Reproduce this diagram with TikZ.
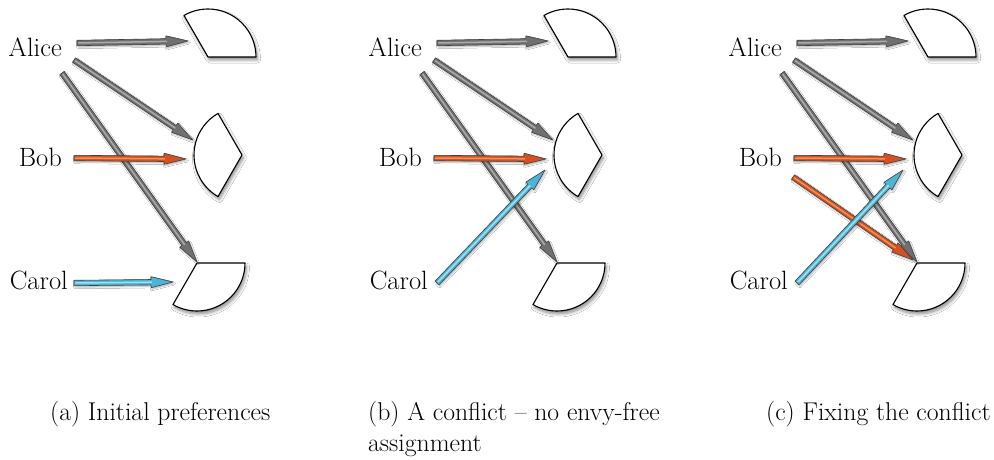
\documentclass[tikz,border=0pt]{standalone}
\usepackage{fontspec}
\usetikzlibrary{calc,shadows.blur}
\definecolor{grayA}{RGB}{112,112,112}
\definecolor{grayL}{RGB}{170,170,170}
\definecolor{orA}{RGB}{212,82,32}
\definecolor{orL}{RGB}{242,145,85}
\definecolor{blA}{RGB}{76,180,214}
\definecolor{blL}{RGB}{160,224,242}
\tikzset{
  lbl/.style={font=\fontsize{26.5pt}{31pt}\selectfont, inner sep=0pt, anchor=base east},
  captxt/.style={font=\fontsize{25.7pt}{31pt}\selectfont, inner sep=0pt, anchor=base west, align=left},
  sector/.style={draw=black, line width=1.1pt, fill=white, line join=round,
    blur shadow={shadow xshift=1.5pt, shadow yshift=-3pt, shadow blur steps=6, shadow opacity=45, shadow blur radius=3pt}},
  arrbody/.style={draw=black!75, line width=0.6pt, line join=round,
    blur shadow={shadow xshift=1pt, shadow yshift=-1.5pt, shadow opacity=30, shadow blur radius=1.5pt}},
  hilite/.style={line width=1.5pt, line cap=round},
}
\newcommand\fatarrow[4]{%
  \coordinate (fah) at ($(#2)!22pt!(#1)$);
  \draw[arrbody, fill=#3] ($(#1)!2.7pt!90:(#2)$) -- ($(fah)!2.7pt!-90:(#1)$) -- ($(fah)!5.5pt!-90:(#1)$) -- (#2) -- ($(fah)!5.5pt!90:(#1)$) -- ($(fah)!2.7pt!90:(#1)$) -- ($(#1)!2.7pt!-90:(#2)$) -- cycle;
  \draw[hilite, #4] ($(#1)!1.5pt!(#2)$) -- ($(fah)!0.5pt!(#2)$);
}
\newcommand\panelbase[1]{%
  \node[lbl] (#1alice) at (62,57) {Alice};
  \node[lbl] (#1bob) at (62,166) {Bob};
  \node[lbl] (#1carol) at (68,289) {Carol};
  \draw[sector] (208,57) coordinate (#1top) -- ++(0:48pt) arc[start angle=0,end angle=120,radius=48pt] -- cycle;
  \draw[sector] (242,155) coordinate (#1mid) -- ++(120:48pt) arc[start angle=120,end angle=240,radius=48pt] -- cycle;
  \draw[sector] (197,263) coordinate (#1bot) -- ++(0:48pt) arc[start angle=0,end angle=-120,radius=48pt] -- cycle;
  \coordinate (#1a1s) at (77,43);  \coordinate (#1a1e) at (188,41);
  \coordinate (#1a2s) at (74,60);  \coordinate (#1a2e) at (193,140);
  \coordinate (#1a3s) at (62,73);  \coordinate (#1a3e) at (197,262);
  \coordinate (#1b1s) at (74,158); \coordinate (#1b1e) at (186,159);
  \fatarrow{#1a1s}{#1a1e}{grayA}{grayL}
  \fatarrow{#1a2s}{#1a2e}{grayA}{grayL}
  \fatarrow{#1a3s}{#1a3e}{grayA}{grayL}
  \fatarrow{#1b1s}{#1b1e}{orA}{orL}
}
\begin{document}
\begin{tikzpicture}[x=1pt,y=-1pt]
\fill[white] (0,0) rectangle (994,460);
\useasboundingbox (0,0) rectangle (994,460);
% panel a
\begin{scope}
  \panelbase{a}
  \coordinate (ac1s) at (74,283); \coordinate (ac1e) at (173,282);
  \fatarrow{ac1s}{ac1e}{blA}{blL}
\end{scope}
% panel b
\begin{scope}[xshift=360pt]
  \panelbase{b}
  \coordinate (bc1s) at (77,283); \coordinate (bc1e) at (185,170);
  \fatarrow{bc1s}{bc1e}{blA}{blL}
\end{scope}
% panel c
\begin{scope}[xshift=720pt]
  \panelbase{c}
  \coordinate (cb2s) at (73,177); \coordinate (cb2e) at (193,260);
  \fatarrow{cb2s}{cb2e}{orA}{orL}
  \coordinate (cc1s) at (77,283); \coordinate (cc1e) at (183,170);
  \fatarrow{cc1s}{cc1e}{blA}{blL}
\end{scope}
\node[captxt] (capa) at (50,420) {(a) Initial preferences};
\node[captxt] (capb) at (368,451) {(b) A conflict -- no envy-free\\assignment};
\node[captxt] (capc) at (766,420) {(c) Fixing the conflict};
\end{tikzpicture}
\end{document}
